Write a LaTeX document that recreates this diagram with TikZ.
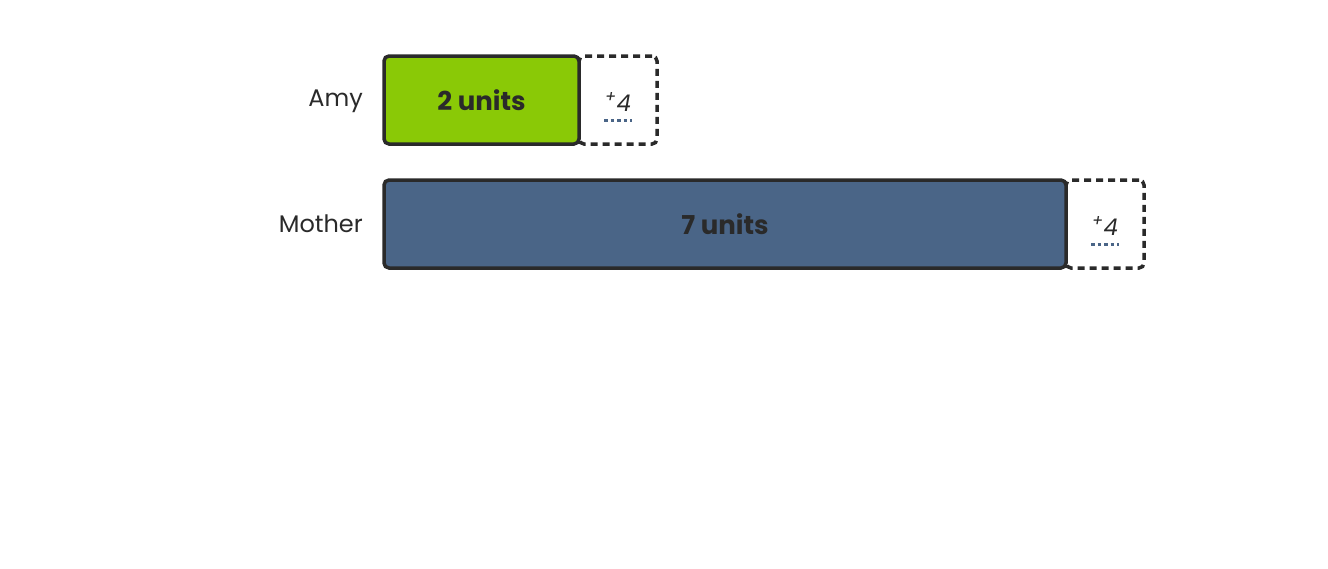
\documentclass[tikz,border=0pt]{standalone}
\usepackage{fontspec}
\setmainfont{Poppins}
\definecolor{amygreen}{HTML}{8AC906}
\definecolor{motherblue}{HTML}{4A6587}
\definecolor{ink}{HTML}{2A2A2A}
\begin{document}
\begin{tikzpicture}[x=1pt,y=-1pt,
  bar/.style={draw=ink, line width=3.5pt, rounded corners=5pt, inner sep=0pt,
    minimum height=88pt, text=ink, font=\fontsize{26}{30}\selectfont\bfseries},
  extra/.style={draw=ink, line width=3.5pt, rounded corners=5pt, inner sep=0pt,
    dash pattern=on 7pt off 5pt, minimum width=78pt, minimum height=88pt, fill=white},
  lbl/.style={anchor=east, text=ink, inner sep=0pt, font=\fontsize{24}{28}\selectfont},
  plus/.style={text=ink, inner sep=0pt, font=\fontsize{23}{27}\selectfont\itshape},
  uline/.style={draw=motherblue, line width=3pt, dash pattern=on 3.5pt off 3pt}
]
\useasboundingbox (0,0) rectangle (1328,568);
\fill[white] (0,0) rectangle (1328,568);
% Amy
\node[lbl] (amylbl) at (363,101) {Amy};
\node[extra] (amyextra) at (618,100) {};
\node[bar, fill=amygreen, minimum width=195pt] (amybar) at (481.5,100) {2 units};
\node[plus] (amyplus) at (618,102) {\textsuperscript{+}4};
\coordinate (amyu1) at (604,120);
\coordinate (amyu2) at (632,120);
\draw[uline] (amyu1) -- (amyu2);
% Mother
\node[lbl] (motherlbl) at (363,224) {Mother};
\node[extra] (motherextra) at (1105,224) {};
\node[bar, fill=motherblue, minimum width=682pt] (motherbar) at (725,224) {7 units};
\node[plus] (motherplus) at (1105,226) {\textsuperscript{+}4};
\coordinate (motheru1) at (1091,244);
\coordinate (motheru2) at (1119,244);
\draw[uline] (motheru1) -- (motheru2);
\end{tikzpicture}
\end{document}
